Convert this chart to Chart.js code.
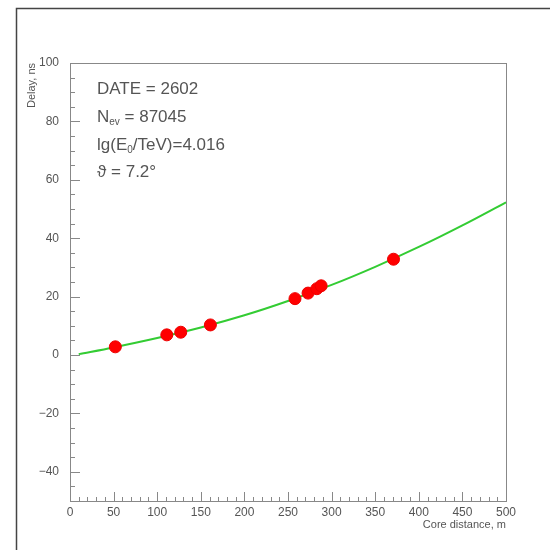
<!DOCTYPE html>
<html>
<head>
  <title>Delay vs core distance</title>
  <script src="https://cdn.jsdelivr.net/npm/chart.js"></script>
  <style>
    body { margin: 0; background: #fff; }
    canvas { display: block; }
  </style>
</head>
<body>
  <canvas id="delayChart" width="550" height="550"></canvas>

  <script>
    // station delays for the event
    const coreDistance = [52, 111, 127, 161, 258, 273, 283, 288, 371];
    const delay = [2.8, 6.9, 7.8, 10.3, 19.3, 21.2, 22.7, 23.7, 32.8];

    // shower front fit
    const fitDistance = [10, 50, 100, 150, 200, 250, 300, 350, 400, 450, 500];
    const fitDelay = [0.3, 2.6, 5.8, 9.4, 13.6, 18.5, 24.0, 30.2, 37.0, 44.4, 52.3];

    const xTicks = [0, 50, 100, 150, 200, 250, 300, 350, 400, 450, 500];
    const yTicks = [-40, -20, 0, 20, 40, 60, 80, 100];

    // each line: [main text, subscript, rest]
    const infoLines = [
      ['DATE = 2602', '', ''],
      ['N', 'ev', ' = 87045'],
      ['lg(E', '0', '/TeV)=4.016'],
      ['\u03D1 = 7.2\u00B0', '', '']
    ];

    const FONT = '"Liberation Sans", Arial, sans-serif';
    const GREY = '#555';

    const frame = {
      id: 'frame',
      beforeDraw(chart) {
        const ctx = chart.ctx;
        ctx.save();
        ctx.fillStyle = '#fff';
        ctx.fillRect(0, 0, chart.width, chart.height);
        ctx.strokeStyle = '#444';
        ctx.lineWidth = 1.5;
        ctx.beginPath();
        ctx.moveTo(16.5, chart.height);
        ctx.lineTo(16.5, 8.5);
        ctx.lineTo(chart.width, 8.5);
        ctx.stroke();
        ctx.restore();
      },
      beforeDatasetsDraw(chart) {
        const ctx = chart.ctx;
        const a = chart.chartArea;
        const x = chart.scales.x, y = chart.scales.y;
        ctx.save();
        ctx.strokeStyle = '#888';
        ctx.lineWidth = 1;
        ctx.strokeRect(Math.round(a.left) + 0.5, Math.round(a.top) + 0.5,
          Math.round(a.right - a.left), Math.round(a.bottom - a.top));

        // inward tick marks
        ctx.beginPath();
        for (let v = y.min; v <= y.max; v += 5) {
          const py = Math.round(y.getPixelForValue(v)) + 0.5;
          const len = v % 20 === 0 ? 10 : 5;
          ctx.moveTo(a.left, py);
          ctx.lineTo(a.left + len, py);
        }
        for (let v = x.min; v <= x.max; v += 10) {
          const px = Math.round(x.getPixelForValue(v)) + 0.5;
          const len = v % 50 === 0 ? 9 : 4;
          ctx.moveTo(px, a.bottom);
          ctx.lineTo(px, a.bottom - len);
        }
        ctx.stroke();

        // event info
        ctx.fillStyle = GREY;
        ctx.textBaseline = 'alphabetic';
        infoLines.forEach((ln, i) => {
          const base = 94 + i * 27.8;
          let px = 97;
          ctx.font = '17px ' + FONT;
          ctx.fillText(ln[0], px, base);
          px += ctx.measureText(ln[0]).width;
          if (ln[1]) {
            ctx.font = '10px ' + FONT;
            ctx.fillText(ln[1], px, base + 3);
            px += ctx.measureText(ln[1]).width;
          }
          if (ln[2]) {
            ctx.font = '17px ' + FONT;
            ctx.fillText(ln[2], px, base);
          }
        });
        ctx.restore();
      }
    };

    const ctx = document.getElementById('delayChart').getContext('2d');

    new Chart(ctx, {
      type: 'scatter',
      data: {
        datasets: [
          {
            label: 'stations',
            data: coreDistance.map((d, i) => ({ x: d, y: delay[i] })),
            backgroundColor: '#ff0000',
            borderColor: '#ee0000',
            borderWidth: 1,
            pointRadius: 6,
            pointHoverRadius: 6
          },
          {
            label: 'fit',
            data: fitDistance.map((d, i) => ({ x: d, y: fitDelay[i] })),
            showLine: true,
            borderColor: '#33cc33',
            borderWidth: 2,
            pointRadius: 0,
            cubicInterpolationMode: 'monotone'
          }
        ]
      },
      options: {
        responsive: false,
        animation: false,
        layout: { padding: { top: 63, right: 44, left: 0, bottom: 0 } },
        plugins: { legend: { display: false }, tooltip: { enabled: false } },
        scales: {
          x: {
            type: 'linear',
            min: 0,
            max: 500,
            afterFit(s) { s.height = 49; },
            afterBuildTicks(s) { s.ticks = xTicks.map(v => ({ value: v })); },
            grid: { display: false, drawTicks: false },
            border: { display: false },
            ticks: { color: GREY, padding: 4, font: { family: FONT, size: 12 }, maxRotation: 0 },
            title: {
              display: true,
              text: 'Core distance, m',
              align: 'end',
              color: GREY,
              font: { family: FONT, size: 11 },
              padding: { top: 0, bottom: 18 }
            }
          },
          y: {
            type: 'linear',
            min: -50,
            max: 100,
            afterFit(s) { s.width = 70; },
            afterBuildTicks(s) { s.ticks = yTicks.map(v => ({ value: v })); },
            grid: { display: false, drawTicks: false },
            border: { display: false },
            ticks: {
              color: GREY,
              padding: 11,
              font: { family: FONT, size: 12 },
              callback: v => String(v).replace('-', '\u2212')
            },
            title: {
              display: true,
              text: 'Delay, ns',
              align: 'end',
              color: GREY,
              font: { family: FONT, size: 11 },
              padding: { top: 25, bottom: 0 }
            }
          }
        }
      },
      plugins: [frame]
    });
  </script>
</body>
</html>
